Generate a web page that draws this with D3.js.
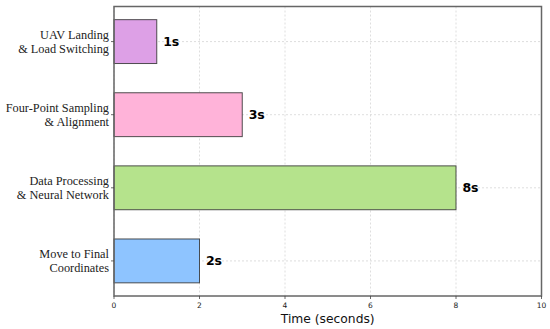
<!DOCTYPE html>
<html><head><meta charset="utf-8">
<script src="https://cdn.jsdelivr.net/npm/d3@7"></script>
<style>body{margin:0;background:#fff}</style>
</head><body>
<svg id="c" width="550" height="329"></svg>
<script>
const categories = [["UAV Landing","& Load Switching"],["Four-Point Sampling","& Alignment"],["Data Processing","& Neural Network"],["Move to Final","Coordinates"]];
const values = [1, 3, 8, 2];
const colors = ["#DDA0E6", "#FFB3D9", "#B5E38C", "#8EC4FF"];
const xTicks = [0, 2, 4, 6, 8, 10];

const svg = d3.select("#c");
const L = 114, R = 541.5, T = 6.5, B = 296;
const x = d3.scaleLinear().domain([0, 10]).range([L, R]);
const y = d3.scaleLinear().domain([-0.48, 3.48]).range([T, B]);

const g = svg.append("g");
g.selectAll("line.vg").data(xTicks).join("line")
  .attr("x1", d => x(d)).attr("x2", d => x(d)).attr("y1", T).attr("y2", B)
  .attr("stroke", "#d6d6d6").attr("stroke-width", 0.8).attr("stroke-dasharray", "2,2");
g.selectAll("line.hg").data(values).join("line")
  .attr("x1", L).attr("x2", R).attr("y1", (d, i) => y(i)).attr("y2", (d, i) => y(i))
  .attr("stroke", "#d6d6d6").attr("stroke-width", 0.8).attr("stroke-dasharray", "2,2");

g.selectAll("rect.bar").data(values).join("rect")
  .attr("x", x(0)).attr("y", (d, i) => y(i - 0.3))
  .attr("width", d => x(d) - x(0)).attr("height", (d, i) => y(i + 0.3) - y(i - 0.3))
  .attr("fill", (d, i) => colors[i]).attr("stroke", "#333").attr("stroke-opacity", 0.85).attr("stroke-width", 1);

g.selectAll("text.val").data(values).join("text")
  .attr("x", d => x(d + 0.15)).attr("y", (d, i) => y(i)).attr("dy", "0.36em")
  .attr("font-family", "DejaVu Sans").attr("font-weight", "bold").attr("font-size", 12.5)
  .attr("fill", "#000").text(d => d + "s");

svg.append("rect").attr("x", L).attr("y", T).attr("width", R - L).attr("height", B - T)
  .attr("fill", "none").attr("stroke", "#666").attr("stroke-width", 1.5);

const xa = svg.append("g");
xa.selectAll("line").data(xTicks).join("line")
  .attr("x1", d => x(d)).attr("x2", d => x(d)).attr("y1", B).attr("y2", B + 3)
  .attr("stroke", "#444").attr("stroke-width", 0.8);
xa.selectAll("text").data(xTicks).join("text")
  .attr("x", d => x(d)).attr("y", B + 12).attr("text-anchor", "middle")
  .attr("font-family", "DejaVu Sans").attr("font-size", 7.5).attr("fill", "#222").text(d => d);
svg.append("text").attr("x", (L + R) / 2).attr("y", 323).attr("text-anchor", "middle")
  .attr("font-family", "DejaVu Sans").attr("font-size", 12.3).attr("fill", "#111").text("Time (seconds)");

const ya = svg.append("g");
ya.selectAll("line").data(categories).join("line")
  .attr("x1", L - 3).attr("x2", L).attr("y1", (d, i) => y(i)).attr("y2", (d, i) => y(i))
  .attr("stroke", "#444").attr("stroke-width", 0.8);
ya.selectAll("text").data(categories).join("text")
  .attr("x", 109).attr("y", (d, i) => y(i) - 7 + 4.5)
  .attr("text-anchor", "end").attr("font-family", "Liberation Serif").attr("font-size", 12.3).attr("fill", "#222")
  .selectAll("tspan").data(d => d).join("tspan")
  .attr("x", 109).attr("dy", (d, j) => j === 0 ? 0 : 14).text(d => d);
</script>
</body></html>
